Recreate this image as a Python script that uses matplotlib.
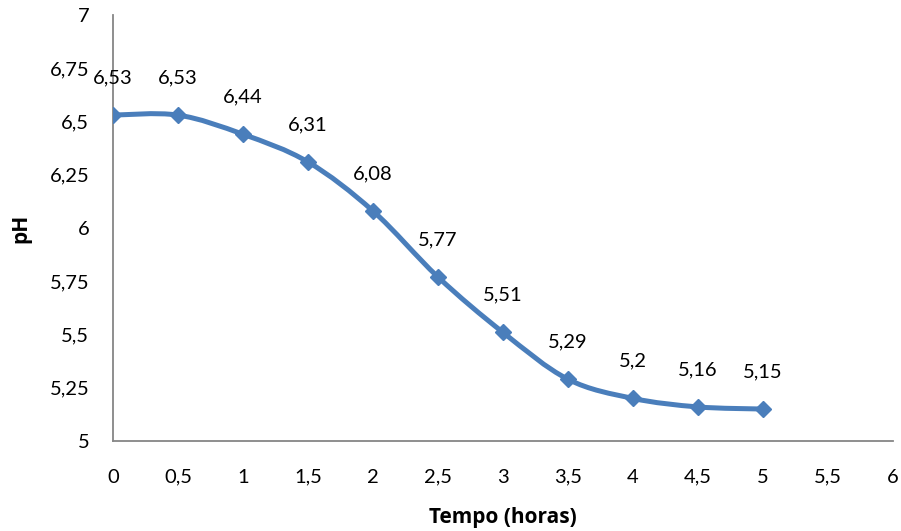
import matplotlib.pyplot as plt
from matplotlib.path import Path
from matplotlib.patches import PathPatch

# Dados do gráfico
tempo = [0, 0.5, 1, 1.5, 2, 2.5, 3, 3.5, 4, 4.5, 5]
ph = [6.53, 6.53, 6.44, 6.31, 6.08, 5.77, 5.51, 5.29, 5.2, 5.16, 5.15]
x_ticks = [0, 0.5, 1, 1.5, 2, 2.5, 3, 3.5, 4, 4.5, 5, 5.5, 6]
y_ticks = [5, 5.25, 5.5, 5.75, 6, 6.25, 6.5, 6.75, 7]

cor = '#4a7ebb'
cinza = '#868686'
plt.rcParams['font.family'] = ['Lato', 'DejaVu Sans']


def fmt(v):
    # formato com vírgula decimal
    return ('%g' % v).replace('.', ',')


# Curva suavizada estilo Excel (Bezier a partir dos pontos)
def caminho_suave(xs, ys):
    pts = list(zip(xs, ys))
    n = len(pts)
    verts = [pts[0]]
    codes = [Path.MOVETO]
    for i in range(n - 1):
        p0 = pts[i - 1] if i > 0 else pts[i]
        p1 = pts[i]
        p2 = pts[i + 1]
        p3 = pts[i + 2] if i + 2 < n else pts[i + 1]
        c1 = (p1[0] + (p2[0] - p0[0]) / 6, p1[1] + (p2[1] - p0[1]) / 6)
        c2 = (p2[0] - (p3[0] - p1[0]) / 6, p2[1] - (p3[1] - p1[1]) / 6)
        verts += [c1, c2, p2]
        codes += [Path.CURVE4] * 3
    return Path(verts, codes)


fig = plt.figure(figsize=(9.01, 5.31), dpi=100)
ax = fig.add_axes([0.1254, 0.1695, 0.8656, 0.8023])

ax.add_patch(PathPatch(caminho_suave(tempo, ph), facecolor='none', edgecolor=cor,
                       lw=3.6, capstyle='round', joinstyle='round', zorder=2))
ax.plot(tempo, ph, linestyle='none', marker='D', ms=8.5, color=cor, zorder=3)

for x, y in zip(tempo, ph):
    ax.annotate(fmt(y), (x, y), xytext=(0, 27), textcoords='offset points',
                ha='center', va='center', fontsize=14.5, color='black')

ax.set_xlim(0, 6)
ax.set_ylim(5, 7)
ax.set_xticks(x_ticks)
ax.set_xticklabels([fmt(v) for v in x_ticks])
ax.set_yticks(y_ticks)
ax.set_yticklabels([fmt(v) for v in y_ticks])
ax.tick_params(axis='both', length=0, labelsize=14.5)
ax.tick_params(axis='x', pad=20)
ax.tick_params(axis='y', pad=17)

for s in ['top', 'right']:
    ax.spines[s].set_visible(False)
for s in ['left', 'bottom']:
    ax.spines[s].set_color(cinza)
    ax.spines[s].set_linewidth(1.3)

ax.set_xlabel('Tempo (horas)', fontsize=15, fontweight='bold', labelpad=15,
              family=['Open Sans', 'DejaVu Sans'])
ax.set_ylabel('pH', fontsize=15, fontweight='bold', labelpad=13,
              family=['Open Sans', 'DejaVu Sans'])

fig.savefig('out.png', dpi=100)
